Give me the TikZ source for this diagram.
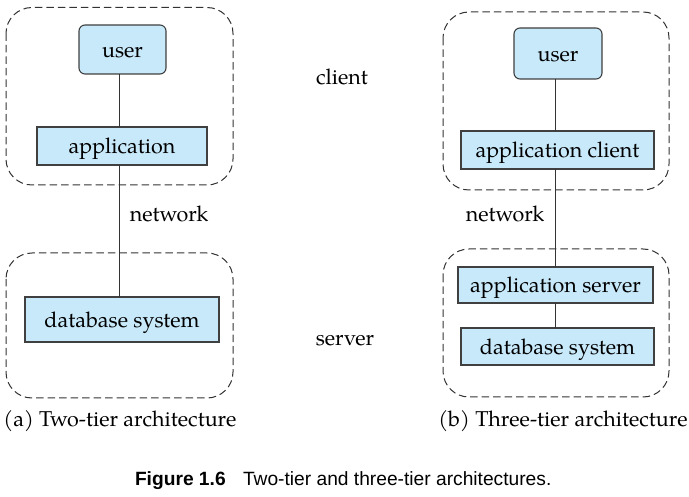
\documentclass[tikz,border=0pt]{standalone}
\usepackage{fontspec}
\setmainfont{TeX Gyre Pagella}
\newfontfamily\capfont{Liberation Sans}
\begin{document}
\begin{tikzpicture}[x=1pt,y=-1pt,
  every node/.style={inner sep=0pt, outer sep=0pt},
  comp/.style={draw=black!75, line width=1.1pt, fill=tierblue,
    text height=16pt, text depth=0pt,
    font=\fontsize{21.5}{26}\selectfont},
  ucomp/.style={comp, rounded corners=6pt},
  tier/.style={draw=black!80, line width=1pt, dash pattern=on 7.5pt off 4pt,
    rounded corners=26pt},
  link/.style={draw=black!80, line width=0.9pt},
  lbl/.style={anchor=base, font=\fontsize{21.5}{26}\selectfont},
  figcap/.style={anchor=base west, font=\capfont\fontsize{19.2}{22}\selectfont},
]
\definecolor{tierblue}{RGB}{200,233,250}
\useasboundingbox (0,0) rectangle (689,497);

% dashed tier outlines
\draw[tier] (6,7.5) rectangle (233,185);
\draw[tier] (6,253) rectangle (233,398);
\draw[tier] (443,12) rectangle (669,190);
\draw[tier] (443,249) rectangle (669,397);

% (a) two-tier architecture
\coordinate (ax) at (119.5,0);
\node[ucomp, minimum width=87pt, minimum height=49pt] (user1) at (122.5,49.5) {user};
\node[comp, minimum width=170pt, minimum height=38pt] (app1) at (122,146) {application};
\node[comp, minimum width=194pt, minimum height=45pt] (db1) at (122,319.5) {database system};
\draw[link] (user1.south -| ax) -- (app1.north -| ax);
\draw[link] (app1.south -| ax) -- (db1.north -| ax);

% (b) three-tier architecture
\coordinate (bx) at (555,0);
\node[ucomp, minimum width=88pt, minimum height=51pt] (user2) at (558,53.5) {user};
\node[comp, minimum width=193pt, minimum height=38pt] (appc) at (557.5,150) {application client};
\node[comp, minimum width=195pt, minimum height=36pt] (apps) at (555.5,285) {application server};
\node[comp, minimum width=193pt, minimum height=37pt] (db2) at (557.5,346.5) {database system};
\draw[link] (user2.south -| bx) -- (appc.north -| bx);
\draw[link] (appc.south -| bx) -- (apps.north -| bx);
\draw[link] (apps.south -| bx) -- (db2.north -| bx);

% tier labels
\node[lbl] (client) at (342,85) {client};
\node[lbl] (net1) at (169,222) {network};
\node[lbl] (net2) at (505,222) {network};
\node[lbl] (server) at (345,345.7) {server};

% sub-captions
\node[lbl] (capa) at (120,426.7) {(a) Two-tier architecture};
\node[lbl] (capb) at (563,426.7) {(b) Three-tier architecture};

% figure caption
\node[figcap, font=\capfont\bfseries\fontsize{19.2}{22}\selectfont] (fignum) at (135,485) {Figure 1.6};
\node[figcap] (figtxt) at (243,485) {Two-tier and three-tier architectures.};
\end{tikzpicture}
\end{document}
